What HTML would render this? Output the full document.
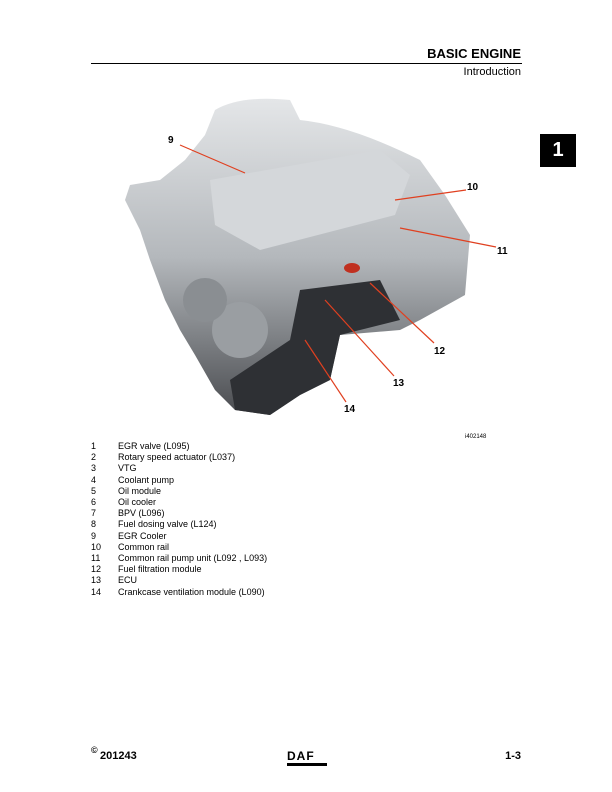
<!DOCTYPE html>
<html><head><meta charset="utf-8"><style>
body{margin:0;background:#fff;}
.p{position:relative;width:612px;height:792px;overflow:hidden;font-family:"Liberation Sans",Arial,sans-serif;color:#000;}
.a{position:absolute;white-space:nowrap;}
.li{position:absolute;left:91px;font-size:9px;line-height:11.2px;}
.li span{display:inline-block;width:27px;}
</style></head><body><div class="p">
<div class="a" style="right:91px;top:46px;font-size:13px;font-weight:bold;">BASIC ENGINE</div>
<div style="position:absolute;left:91px;top:63px;width:431px;height:1px;background:#000"></div>
<div class="a" style="right:91px;top:66px;font-size:11px;">Introduction</div>
<div style="position:absolute;left:540px;top:134px;width:36px;height:33px;background:#000;color:#fff;font-weight:bold;font-size:20px;text-align:center;line-height:33px;">1</div>
<svg style="position:absolute;left:0;top:0" width="612" height="440">
<defs><linearGradient id="g" x1="0" y1="0" x2="0" y2="1"><stop offset="0" stop-color="#e4e6e8"/><stop offset="0.5" stop-color="#b4b8bc"/><stop offset="1" stop-color="#4a4c50"/></linearGradient></defs>
<path d="M215,110 Q240,95 290,100 L300,120 Q350,125 420,160 L445,195 L470,235 L465,295 L420,320 L400,330 L340,335 L330,380 L300,395 L270,415 L235,410 L215,390 L195,355 L180,330 L165,300 L150,260 L140,230 L125,200 L130,185 L160,180 L185,160 L205,135 Z" fill="url(#g)"/>
<path d="M210,180 L380,150 L410,175 L395,215 L260,250 L215,225 Z" fill="#d4d7da"/>
<circle cx="240" cy="330" r="28" fill="#9a9ea2"/><circle cx="205" cy="300" r="22" fill="#8a8e92"/>
<path d="M300,290 L380,280 L400,320 L340,335 L330,380 L300,395 L270,415 L235,410 L230,380 L290,340 Z" fill="#2e3034"/>
<ellipse cx="352" cy="268" rx="8" ry="5" fill="#c03020"/>
<g stroke="#e04020" stroke-width="1.2" fill="none">
<line x1="180" y1="145" x2="245" y2="173"/><line x1="466" y1="190" x2="395" y2="200"/>
<line x1="496" y1="247" x2="400" y2="228"/><line x1="434" y1="343" x2="370" y2="283"/>
<line x1="394" y1="376" x2="325" y2="300"/><line x1="346" y1="402" x2="305" y2="340"/>
</g>
<g font-family="Liberation Sans,Arial,sans-serif" font-size="10" font-weight="bold">
<text x="168" y="143">9</text><text x="467" y="190">10</text><text x="497" y="254">11</text>
<text x="434" y="354">12</text><text x="393" y="386">13</text><text x="344" y="412">14</text>
</g>
<text x="465" y="438" font-family="Liberation Sans,Arial,sans-serif" font-size="6">i402148</text>
</svg>
<div class="li" style="top:441px">
<div><span>1</span>EGR valve (L095)</div>
<div><span>2</span>Rotary speed actuator (L037)</div>
<div><span>3</span>VTG</div>
<div><span>4</span>Coolant pump</div>
<div><span>5</span>Oil module</div>
<div><span>6</span>Oil cooler</div>
<div><span>7</span>BPV (L096)</div>
<div><span>8</span>Fuel dosing valve (L124)</div>
<div><span>9</span>EGR Cooler</div>
<div><span>10</span>Common rail</div>
<div><span>11</span>Common rail pump unit (L092 , L093)</div>
<div><span>12</span>Fuel filtration module</div>
<div><span>13</span>ECU</div>
<div><span>14</span>Crankcase ventilation module (L090)</div>
</div>
<div class="a" style="left:91px;top:745px;font-size:9px;font-weight:bold;">©</div>
<div class="a" style="left:100px;top:750px;font-size:11px;font-weight:bold;">201243</div>
<div class="a" style="left:287px;top:749px;font-size:12px;font-weight:900;letter-spacing:1px;">DAF</div>
<div style="position:absolute;left:287px;top:763px;width:40px;height:3px;background:#000"></div>
<div class="a" style="right:91px;top:750px;font-size:11px;font-weight:bold;">1-3</div>
</div></body></html>
